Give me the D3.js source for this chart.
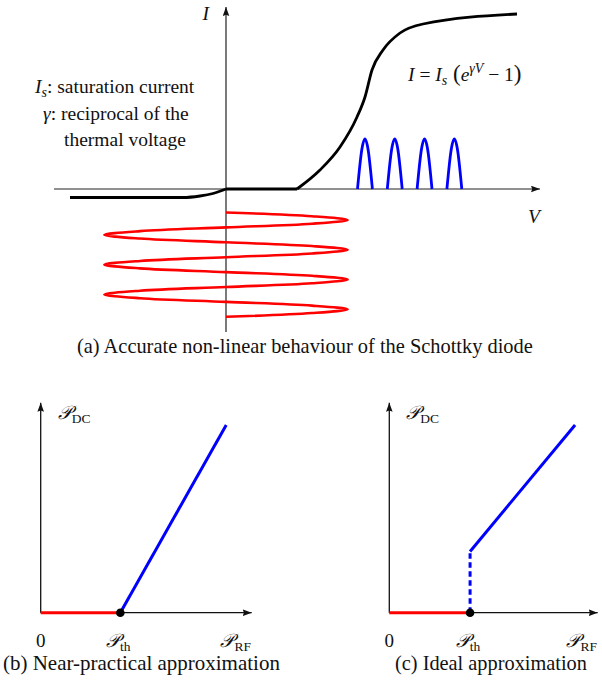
<!DOCTYPE html>
<html>
<head>
<meta charset="utf-8">
<script src="https://cdn.jsdelivr.net/npm/d3@7"></script>
<style>
  html, body { margin: 0; background: #fff; }
  svg { display: block; }
</style>
</head>
<body>
<script>
// ---------- Panel (a): diode I–V characteristic (V, I in arbitrary units) ----------
const ivReverse = [[-1.56, -0.085], [-0.43, -0.085], [-0.26, -0.07], [-0.13, -0.045], [0, 0]];
const ivDeadZone = [[0, 0], [0.71, 0]];
const ivForward = [[0.71, 0], [0.94, 0.19], [1.14, 0.42], [1.31, 0.72], [1.39, 0.92],
                   [1.46, 1.19], [1.57, 1.39], [1.74, 1.56], [1.97, 1.65], [2.91, 1.75]];

// RF input voltage, sampled every 1/8 period (time in periods, voltage in V units)
const inputTime = [0, 0.125, 0.25, 0.375, 0.5, 0.625, 0.75, 0.875,
                   1, 1.125, 1.25, 1.375, 1.5, 1.625, 1.75, 1.875,
                   2, 2.125, 2.25, 2.375, 2.5, 2.625, 2.75, 2.875,
                   3, 3.125, 3.25, 3.375, 3.5];
const inputVoltage = [0, 0.86, 1.217, 0.86, 0, -0.86, -1.217, -0.86,
                      0, 0.86, 1.217, 0.86, 0, -0.86, -1.217, -0.86,
                      0, 0.86, 1.217, 0.86, 0, -0.86, -1.217, -0.86,
                      0, 0.86, 1.217, 0.86, 0];

// Rectified output current pulses (one per period)
const pulseStarts = [0, 1, 2, 3];
const pulseOffsets = [0, 0.125, 0.25, 0.375, 0.5];
const pulseCurrent = [0, 0.354, 0.5, 0.354, 0];

const noteLines = [
  { sym: "I", sub: "s", rest: ": saturation current" },
  { sym: "γ", sub: "", rest: ": reciprocal of the" },
  { sym: "", sub: "", rest: "thermal voltage" }
];

// ---------- Panels (b) and (c): harvested DC power vs. input RF power ----------
const pThreshold = 1;
const offRegion = [[0, 0], [1, 0]];
const nearPracticalOn = [[1, 0], [2.33, 2.36]];
const idealJump = [[1, 0], [1, 0.77]];
const idealOn = [[1, 0.77], [2.30, 2.36]];

const captions = {
  a: "(a) Accurate non-linear behaviour of the Schottky diode",
  b: "(b) Near-practical approximation",
  c: "(c) Ideal approximation"
};

const SERIF = "Liberation Serif";
const W = 602, H = 680;
const svg = d3.select("body").append("svg")
  .attr("width", W).attr("height", H);

const defs = svg.append("defs");
defs.append("marker")
  .attr("id", "arrow")
  .attr("viewBox", "0 -3.5 9 7")
  .attr("refX", 9).attr("refY", 0)
  .attr("markerWidth", 9).attr("markerHeight", 7)
  .attr("markerUnits", "userSpaceOnUse")
  .attr("orient", "auto")
  .append("path")
  .attr("d", "M0,-3.3L9,0L0,3.3L1.2,0Z")
  .attr("fill", "#111");

// text helpers: every text/tspan carries its own font family
function txt(parent, x, y, size) {
  return parent.append("text")
    .attr("x", x).attr("y", y)
    .attr("font-family", SERIF).attr("font-size", size).attr("fill", "#111");
}
function span(parent, str, opts = {}) {
  const s = parent.append("tspan").attr("font-family", SERIF).text(str);
  if (opts.italic) s.attr("font-style", "italic");
  if (opts.size) s.attr("font-size", opts.size);
  if (opts.dy) s.attr("dy", opts.dy);
  return s;
}
// pick the font size at which a line's natural width matches the given width
function fitSize(sel, width) {
  const size = +sel.attr("font-size");
  const natural = sel.node().getComputedTextLength();
  sel.attr("font-size", (size * width / natural).toFixed(2));
  return sel;
}

// ===== Panel (a) =====
const xV = d3.scaleLinear().domain([-1.72, 3.14]).range([54, 540]);
const yI = d3.scaleLinear().domain([-1.43, 1.82]).range([332, 7]);
const tIn = d3.scaleLinear().domain([0, 3.5]).range([212.5, 316.8]);
const tOut = d3.scaleLinear().domain([0, 4]).range([357.5, 476.7]);

const gA = svg.append("g");

gA.append("line")
  .attr("x1", xV(-1.72)).attr("x2", xV(3.14))
  .attr("y1", yI(0)).attr("y2", yI(0))
  .attr("stroke", "#222").attr("stroke-width", 1.2)
  .attr("marker-end", "url(#arrow)");
gA.append("line")
  .attr("x1", xV(0)).attr("x2", xV(0))
  .attr("y1", yI(-1.43)).attr("y2", yI(1.82))
  .attr("stroke", "#222").attr("stroke-width", 1.2)
  .attr("marker-end", "url(#arrow)");

const ivLine = d3.line().x(d => xV(d[0])).y(d => yI(d[1])).curve(d3.curveMonotoneX);
[ivReverse, ivDeadZone, ivForward].forEach(seg => {
  gA.append("path").attr("d", ivLine(seg))
    .attr("fill", "none").attr("stroke", "#000")
    .attr("stroke-width", 2.8).attr("stroke-linejoin", "round");
});

// input voltage wave, time running downward
const inputPts = inputTime.map((t, i) => [inputVoltage[i], t]);
const waveLine = d3.line().x(d => xV(d[0])).y(d => tIn(d[1])).curve(d3.curveCatmullRom.alpha(0.5));
gA.append("path").attr("d", waveLine(inputPts))
  .attr("fill", "none").attr("stroke", "#ff0000").attr("stroke-width", 2.6);

// output current pulses, time running along the V axis
const pulseLine = d3.line().x(d => tOut(d[0])).y(d => yI(d[1])).curve(d3.curveNatural);
pulseStarts.forEach(s => {
  const pts = pulseOffsets.map((o, i) => [s + o, pulseCurrent[i]]);
  gA.append("path").attr("d", pulseLine(pts))
    .attr("fill", "none").attr("stroke", "#0000ff").attr("stroke-width", 2.8);
});

// axis labels
span(txt(gA, 202.5, 20, 19.5), "I", { italic: true });
span(txt(gA, 528, 223, 19.5), "V", { italic: true });

// equation
const eq = txt(gA, 408, 81, 19.5);
span(eq, "I", { italic: true });
span(eq, " = ");
span(eq, "I", { italic: true });
span(eq, "s", { italic: true, size: 14, dy: 4 });
span(eq, " (", { size: 23, dy: -4 });
span(eq, "e", { italic: true });
span(eq, "γV", { italic: true, size: 14, dy: -8 });
span(eq, " − 1", { dy: 8 });
span(eq, ")", { size: 23 });

// explanatory notes
const noteX = [35, 43, 64], noteY = [93, 119.5, 146];
noteLines.forEach((ln, i) => {
  const t = txt(gA, noteX[i], noteY[i], 19.5);
  if (ln.sym) span(t, ln.sym, { italic: true });
  if (ln.sub) {
    span(t, ln.sub, { italic: true, size: 14, dy: 3.5 });
    span(t, ln.rest, { dy: -3.5 });
  } else {
    span(t, ln.rest);
  }
});

// caption (a), sized to its full width
const capA = txt(svg, 77, 353, 19);
span(capA, captions.a);
fitSize(capA, 456);

// ===== Panels (b) and (c) =====
function powerPanel(xScale, yScale, onSegments, dashed, caption, capX, capW) {
  const g = svg.append("g");
  const [x0, x1] = xScale.domain();
  const [y0, y1] = yScale.domain();
  const line = d3.line().x(d => xScale(d[0])).y(d => yScale(d[1]));

  g.append("line")
    .attr("x1", xScale(x0)).attr("x2", xScale(x1))
    .attr("y1", yScale(0)).attr("y2", yScale(0))
    .attr("stroke", "#111").attr("stroke-width", 1.3)
    .attr("marker-end", "url(#arrow)");
  g.append("line")
    .attr("x1", xScale(0)).attr("x2", xScale(0))
    .attr("y1", yScale(y0)).attr("y2", yScale(y1))
    .attr("stroke", "#111").attr("stroke-width", 1.3)
    .attr("marker-end", "url(#arrow)");

  g.append("path").attr("d", line(offRegion))
    .attr("fill", "none").attr("stroke", "#ff0000").attr("stroke-width", 3);
  if (dashed) {
    g.append("path").attr("d", line(dashed))
      .attr("fill", "none").attr("stroke", "#0000ff").attr("stroke-width", 3)
      .attr("stroke-dasharray", "5.5,3.5");
  }
  g.append("path").attr("d", line(onSegments))
    .attr("fill", "none").attr("stroke", "#0000ff").attr("stroke-width", 3);

  g.append("circle").attr("cx", xScale(pThreshold)).attr("cy", yScale(0))
    .attr("r", 4.3).attr("fill", "#000");

  // labels
  const pdc = txt(g, xScale(0) + 17, yScale(y1) + 16, 19);
  span(pdc, "𝒫", { italic: true });
  span(pdc, "DC", { size: 13.5, dy: 4 });

  span(txt(g, xScale(0), yScale(0) + 34, 19).attr("text-anchor", "middle"), "0");

  const pth = txt(g, xScale(pThreshold) - 2, yScale(0) + 34, 19).attr("text-anchor", "middle");
  span(pth, "𝒫", { italic: true });
  span(pth, "th", { size: 13.5, dy: 4 });

  const prf = txt(g, xScale(x1) - 16, yScale(0) + 34, 19).attr("text-anchor", "middle");
  span(prf, "𝒫", { italic: true });
  span(prf, "RF", { size: 13.5, dy: 4 });

  const cap = txt(g, capX, 670, 19);
  span(cap, caption);
  fitSize(cap, capW);
}

const xB = d3.scaleLinear().domain([0, 2.65]).range([40.7, 251.7]);
const yB = d3.scaleLinear().domain([0, 2.64]).range([612.7, 402.7]);
powerPanel(xB, yB, nearPracticalOn, null, captions.b, 3, 277);

const xC = d3.scaleLinear().domain([0, 2.58]).range([389.3, 597.7]);
const yC = d3.scaleLinear().domain([0, 2.64]).range([612.7, 402.7]);
powerPanel(xC, yC, idealOn, idealJump, captions.c, 395, 192);
</script>
</body>
</html>
